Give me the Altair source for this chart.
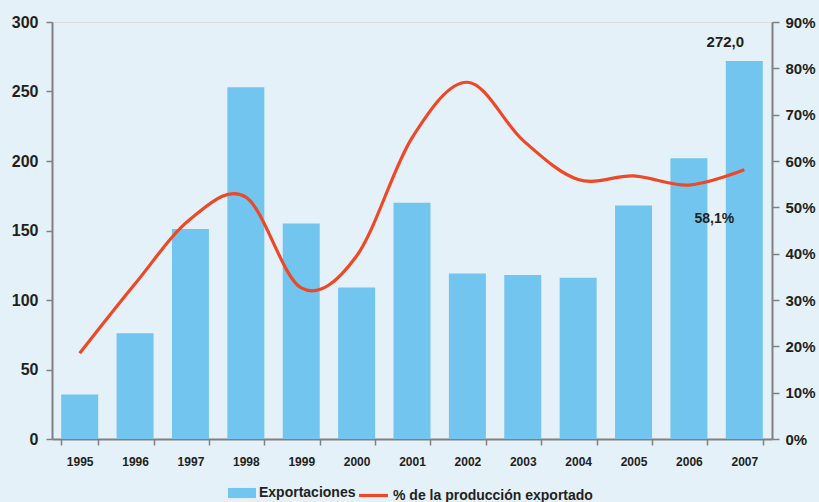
import altair as alt
import pandas as pd

years = ["1995", "1996", "1997", "1998", "1999", "2000", "2001",
         "2002", "2003", "2004", "2005", "2006", "2007"]
exportaciones = [32, 76, 151, 253, 155, 109, 170, 119, 118, 116, 168, 202, 272]
pct_exportado = [18.5, 33.5, 47.5, 52.2, 32.6, 39.5, 65.0, 77.0, 64.5, 56.0, 56.8, 54.8, 58.1]

bar_label = "Exportaciones"
line_label = "% de la producción exportado"

df = pd.DataFrame({"year": years, "exp": exportaciones, "pct": pct_exportado})
df["s_bar"] = bar_label
df["s_line"] = line_label
last = df.tail(1).copy()
last["exp_txt"] = "272,0"
last["pct_txt"] = "58,1%"

BG = "#e4f1f8"
BAR = "#72c5ee"
LINE = "#ee4826"
AX = "#808080"
TXT = "#231f20"
FONT = "Liberation Sans"

x = alt.X("year:N", title=None, sort=years,
          scale=alt.Scale(paddingInner=0.332, paddingOuter=0.166),
          axis=alt.Axis(labelAngle=0, tickBand="extent", tickSize=6,
                        labelPadding=11, labelFontSize=12, labelFontWeight="bold",
                        domainColor=AX, tickColor=AX, domainWidth=2, tickWidth=1.5))

y_left = alt.Y("exp:Q", title=None,
               scale=alt.Scale(domain=[0, 300], nice=False),
               axis=alt.Axis(values=[0, 50, 100, 150, 200, 250, 300], tickSize=6,
                             labelPadding=8, labelFontSize=16, labelFontWeight="bold",
                             domainColor=AX, tickColor=AX, domainWidth=2, tickWidth=1.5,
                             grid=False))

bars = alt.Chart(df).mark_bar().encode(
    x=x, y=y_left,
    fill=alt.Fill("s_bar:N", scale=alt.Scale(domain=[bar_label], range=[BAR]),
                  legend=alt.Legend(title=None, orient="none", legendX=176, legendY=457,
                                    symbolType="M-1,-0.36L1,-0.36L1,0.36L-1,0.36Z",
                                    symbolSize=784, symbolStrokeWidth=0,
                                    labelFontSize=14, labelFontWeight="bold",
                                    labelColor=TXT, labelOffset=3, labelLimit=300)),
)

bar_text = alt.Chart(last).mark_text(fontSize=15, fontWeight="bold", color=TXT,
                                     dx=-19, dy=-11, baseline="bottom", font=FONT).encode(
    x=alt.X("year:N", sort=years), y="exp:Q", text="exp_txt:N")

y_right = alt.Y("pct:Q", title=None,
                scale=alt.Scale(domain=[0, 90], nice=False),
                axis=alt.Axis(orient="right", values=[0, 10, 20, 30, 40, 50, 60, 70, 80, 90],
                              labelExpr="datum.value + '%'", tickSize=7,
                              labelPadding=6, labelFontSize=15, labelFontWeight="bold",
                              domainColor=AX, tickColor=AX, domainWidth=2, tickWidth=1.5,
                              grid=False))

line = alt.Chart(df).mark_line(strokeWidth=3.2, interpolate="cardinal").encode(
    x=alt.X("year:N", sort=years), y=y_right,
    stroke=alt.Stroke("s_line:N", scale=alt.Scale(domain=[line_label], range=[LINE]),
                      legend=alt.Legend(title=None, orient="none", legendX=305, legendY=457,
                                        symbolType="stroke", symbolSize=841,
                                        symbolStrokeWidth=3.2,
                                        labelFontSize=14, labelFontWeight="bold",
                                        labelColor=TXT, labelOffset=3, labelLimit=400)),
)

line_text = alt.Chart(last).mark_text(fontSize=14, fontWeight="bold", color=TXT,
                                      dx=-30, dy=49, font=FONT).encode(
    x=alt.X("year:N", sort=years), y="pct:Q", text="pct_txt:N")

chart = alt.layer(
    alt.layer(bars, bar_text),
    alt.layer(line, line_text),
).resolve_scale(y="independent", fill="independent", stroke="independent").properties(
    width=720, height=417,
    background=BG,
    padding={"left": 52, "top": 22, "right": 47, "bottom": 63},
    autosize=alt.AutoSizeParams(type="none"),
).configure_view(stroke=None).configure(font=FONT).configure_axis(
    labelColor=TXT, labelFont=FONT
).configure_legend(labelFont=FONT)

chart.save("out.html", embed_options={"renderer": "svg", "actions": False})
